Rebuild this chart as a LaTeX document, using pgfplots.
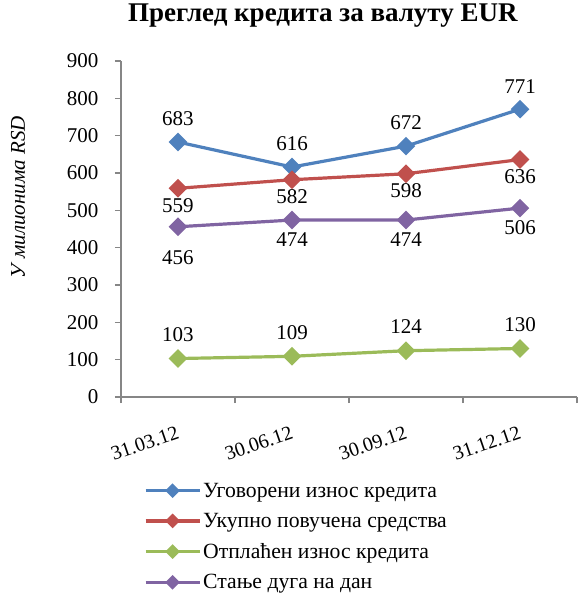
\documentclass[border=0pt]{standalone}
\usepackage{fontspec}
\setmainfont{Liberation Serif}
\usepackage{pgfplots}
\pgfplotsset{compat=1.18}

\definecolor{sBlue}{HTML}{4F81BD}
\definecolor{sRed}{HTML}{C0504D}
\definecolor{sGreen}{HTML}{9BBB59}
\definecolor{sPurple}{HTML}{8064A2}
\definecolor{axGray}{HTML}{868686}

\begin{document}
\begin{tikzpicture}[x=1pt,y=1pt]
\useasboundingbox (-121,-196) rectangle (456,397);
\begin{axis}[
  at={(0,0)}, anchor=south west,
  scale only axis, width=456pt, height=336pt,
  xmin=0.5, xmax=4.5, ymin=0, ymax=900,
  ytick={0,100,...,900},
  xtick={1,2,3,4},
  xticklabels={31.03.12,30.06.12,30.09.12,31.12.12},
  minor xtick={0.5,1.5,2.5,3.5,4.5},
  major x tick style={draw=none},
  axis x line=bottom, axis y line=left,
  axis line style={draw=axGray, line width=1.3pt, -},
  every tick/.style={draw=axGray, line width=1.3pt},
  tick align=outside, major tick length=6pt, minor tick length=6pt,
  /pgf/number format/assume math mode=true,
  tick label style={font=\fontsize{21}{24}\selectfont},
  yticklabel style={xshift=-13pt},
  xticklabel style={font=\fontsize{20}{23}\selectfont, rotate=19, anchor=north east, yshift=-17pt, xshift=-6pt},
  title={\textbf{Преглед кредита за валуту EUR}},
  title style={font=\fontsize{27}{31}\selectfont, at={(axis description cs:0.443,1.116)}, anchor=center, yshift=0pt},
  ylabel={\textit{У милионима RSD}},
  ylabel style={font=\fontsize{21}{24}\selectfont, at={(axis description cs:-0.226,0.595)}, anchor=center, rotate=0},
  every axis plot/.append style={line width=3.2pt, mark=square*, mark size=5pt, mark options={rotate=45, solid}},
  nodes near coords,
  every node near coord/.append style={font=\fontsize{21}{24}\selectfont, text=black},
  legend style={at={(axis description cs:0.05,-0.249)}, anchor=north west, draw=none, fill=none,
    font=\fontsize{21.7}{25}\selectfont, row sep=10.5pt, inner sep=0pt},
  legend cell align=left,
  legend image code/.code={\draw[#1, mark size=3.6pt, mark repeat=2, mark phase=2] plot coordinates {(0pt,0pt)(27pt,0pt)(54pt,0pt)};},
]
\addplot[color=sBlue, every node near coord/.append style={anchor=south, yshift=11pt}] coordinates {(1,683)(2,616)(3,672)(4,771)};
\addlegendentry{Уговорени износ кредита}
\addplot[color=sRed, every node near coord/.append style={anchor=north, yshift=-5pt}] coordinates {(1,559)(2,582)(3,598)(4,636)};
\addlegendentry{Укупно повучена средства}
\addplot[color=sGreen, every node near coord/.append style={anchor=south, yshift=12pt}] coordinates {(1,103)(2,109)(3,124)(4,130)};
\addlegendentry{Отплаћен износ кредита}
\addplot[color=sPurple, visualization depends on={\thisrow{dy} \as \labdy},
  every node near coord/.append style={anchor=north, yshift=\labdy pt}] table[x=x, y=y] {
x y dy
1 456 -19
2 474 -8
3 474 -8
4 506 -8
};
\addlegendentry{Стање дуга на дан}
\end{axis}
\end{tikzpicture}
\end{document}
